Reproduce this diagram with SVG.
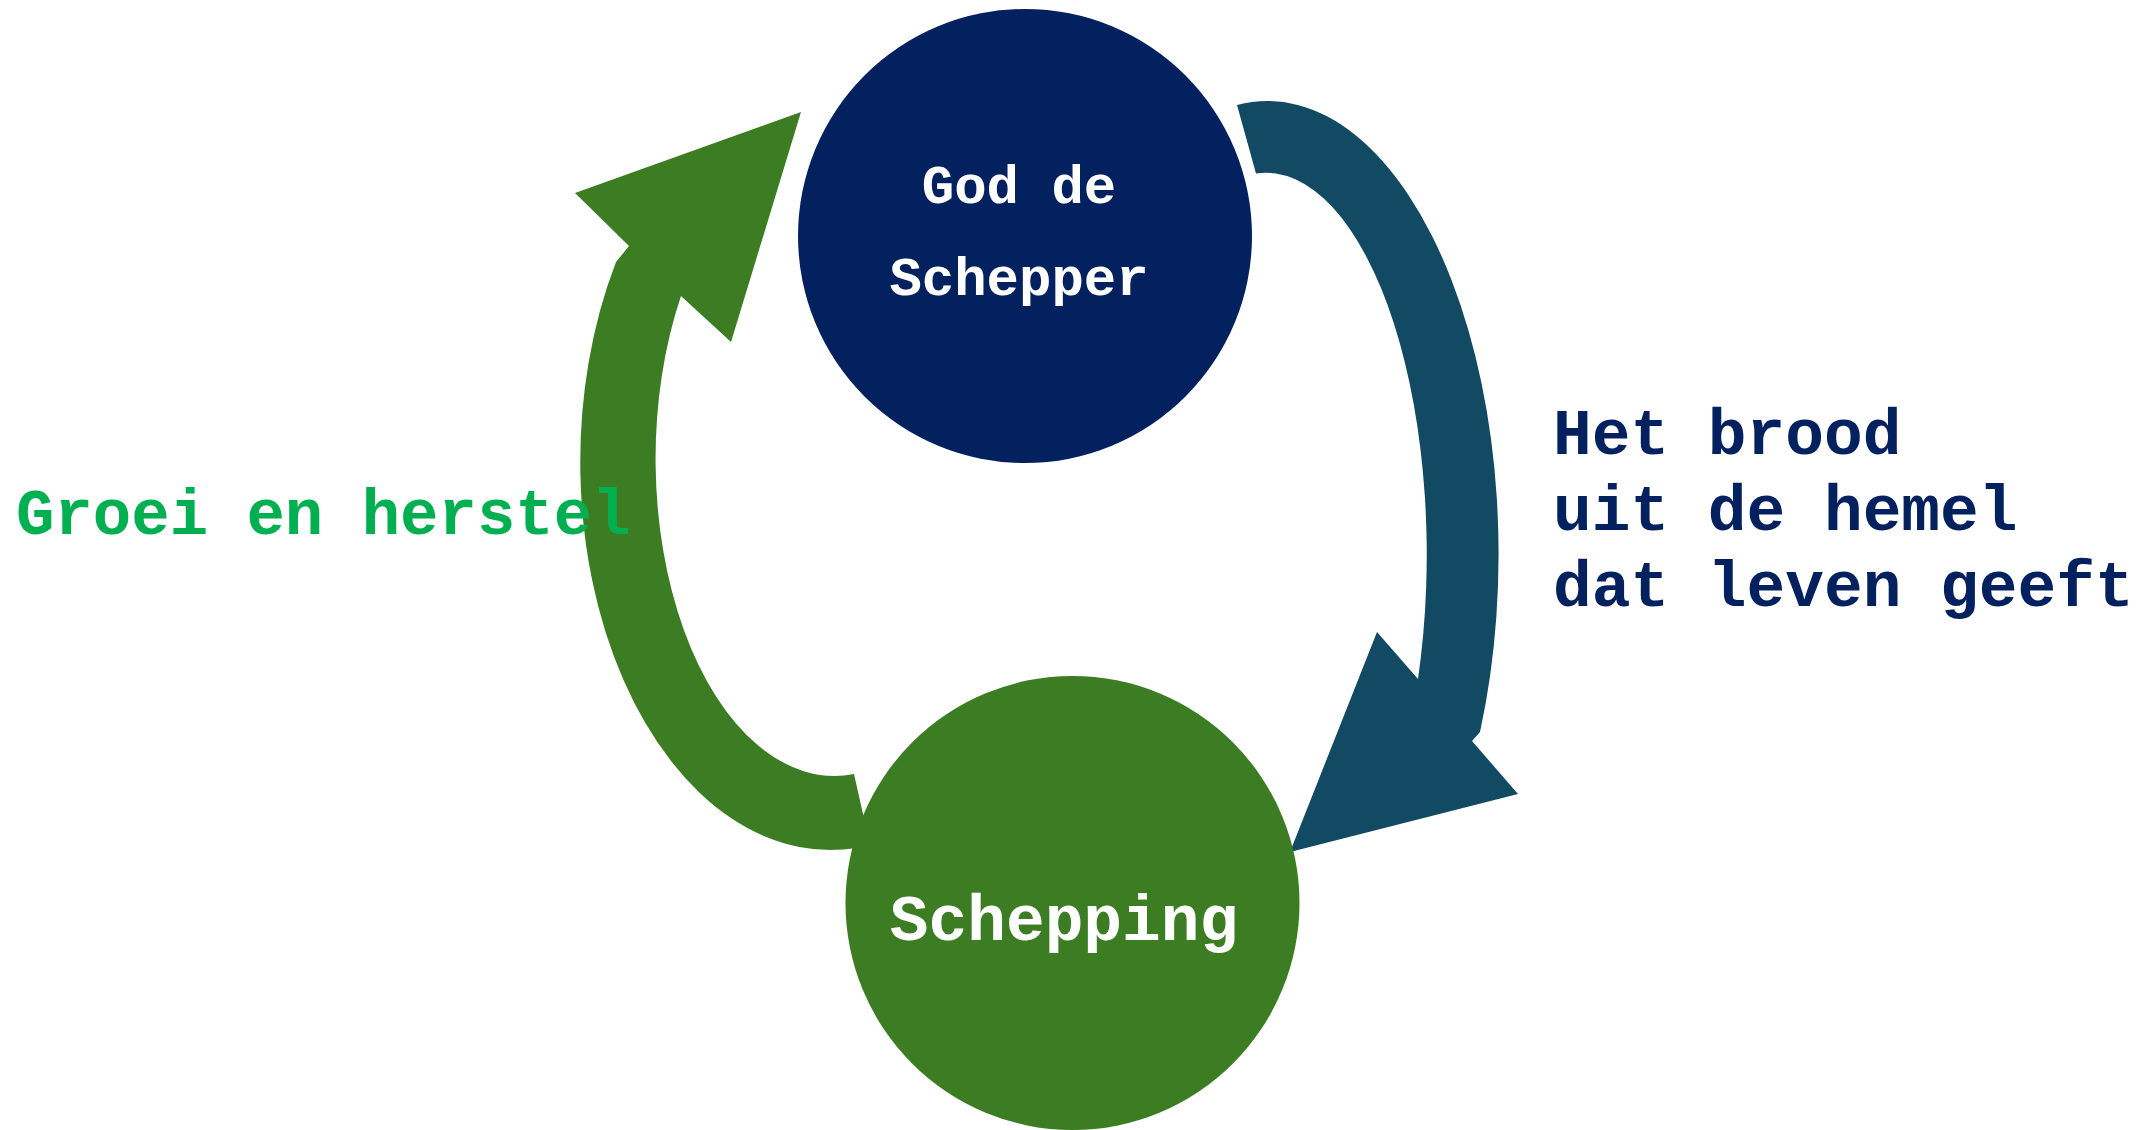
<svg xmlns="http://www.w3.org/2000/svg" width="2156" height="1130" viewBox="0 0 2156 1130">
<style>
.lbl{font-family:"Liberation Mono","Courier New",monospace;font-weight:bold}
.white{fill:#FFFFFF}
</style>
<rect width="2156" height="1130" fill="#FFFFFF"/>
<g id="connectors">
<path id="arrow-green" fill="#3C7D23" d="M616,262 A250,388 0 0 0 870,845 L854,774 A179,317 0 0 1 681,296 L731,342 L801,112 L575,193 L629,246 Z"/>
<path id="arrow-blue" fill="#134A63" d="M1237,105 A231,453 0 0 1 1480,732 L1472,741 L1518,794 L1290,852 L1377,632 L1418,679 A161,382 0 0 0 1256,173.5 Z"/>
</g>
<g id="node-god">
<circle cx="1025" cy="236" r="227" fill="#03215F"/>
<text class="lbl white" x="1019" y="203" font-size="54" text-anchor="middle">God de</text>
<text class="lbl white" x="1019" y="295" font-size="54" text-anchor="middle">Schepper</text>
</g>
<g id="node-schepping">
<circle cx="1072.5" cy="903" r="227" fill="#3C7D23"/>
<text class="lbl white" x="1064" y="940" font-size="64.5" text-anchor="middle">Schepping</text>
</g>
<g id="label-groei">
<text class="lbl" x="16" y="534" font-size="64" fill="#00B050">Groei en herstel</text>
</g>
<g id="label-brood">
<text class="lbl" x="1553" y="454" font-size="64.5" fill="#03215F">Het brood</text>
<text class="lbl" x="1553" y="530" font-size="64.5" fill="#03215F">uit de hemel</text>
<text class="lbl" x="1553" y="606" font-size="64.5" fill="#03215F">dat leven geeft</text>
</g>
</svg>
